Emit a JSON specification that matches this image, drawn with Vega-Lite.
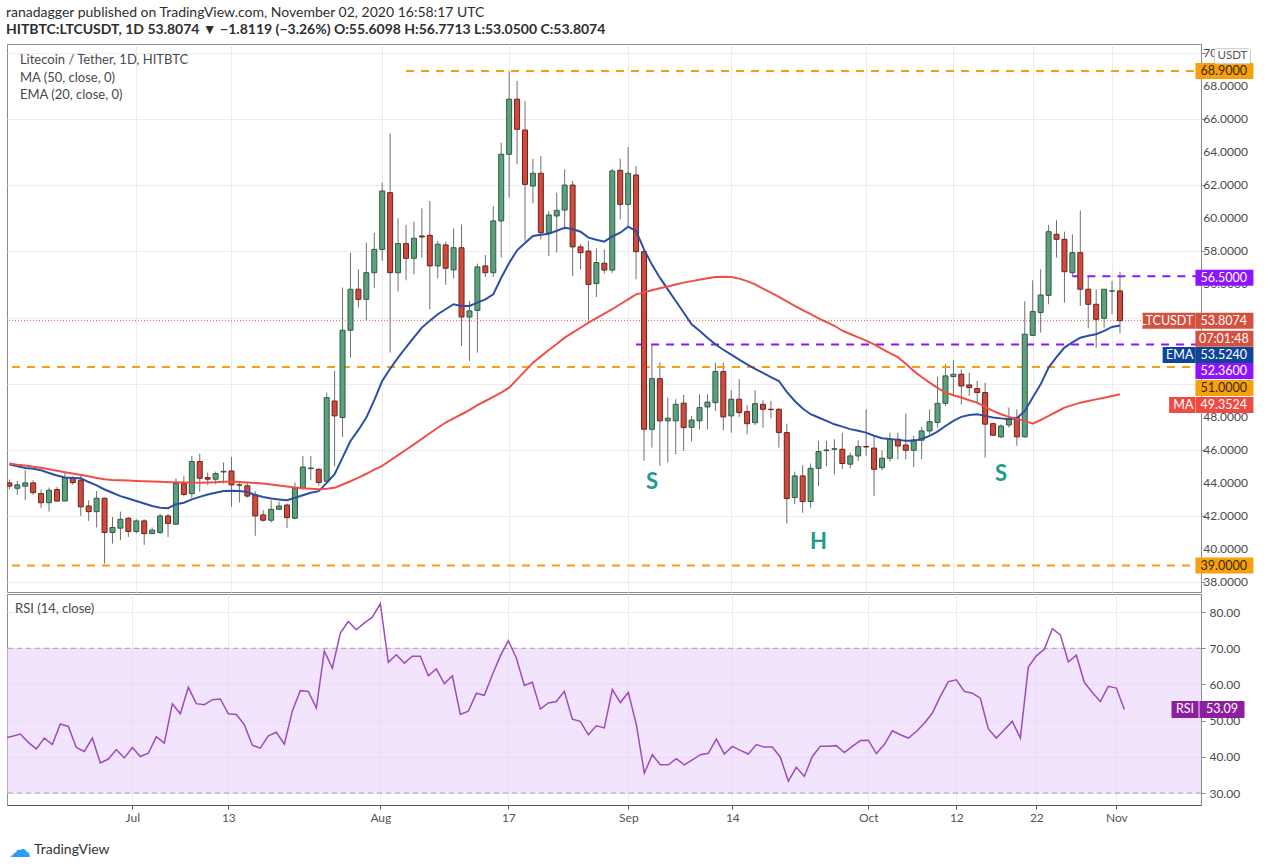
{
  "$schema": "https://vega.github.io/schema/vega-lite/v6.json",
  "background": "white",
  "padding": {"left": 6, "top": 5, "right": 0, "bottom": 0},
  "autosize": {"type": "pad"},
  "title": {
    "text": "ranadagger published on TradingView.com, November 02, 2020 16:58:17 UTC",
    "subtitle": "HITBTC:LTCUSDT, 1D  53.8074 ▼ −1.8119 (−3.26%)  O:55.6098  H:56.7713  L:53.0500  C:53.8074",
    "anchor": "start",
    "frame": "bounds",
    "font": "Lato",
    "fontSize": 14,
    "fontWeight": "normal",
    "color": "#2e2e2e",
    "subtitleFont": "Lato",
    "subtitleFontSize": 14,
    "subtitleFontWeight": "bold",
    "subtitleColor": "#2e2e2e",
    "subtitlePadding": 3,
    "offset": 7
  },
  "config": {
    "font": "Lato",
    "view": {"stroke": "#8c8c8c"},
    "axis": {"labelFont": "Lato", "titleFont": "Lato", "labelOverlap": false}
  },
  "datasets": {
    "candles": [
      {"date": "2020-06-15", "o": 44.0, "h": 44.2, "l": 43.6, "c": 43.8, "ema": 45.13, "ma": 45.17, "rsi": 45.2},
      {"date": "2020-06-16", "o": 43.67, "h": 44.12, "l": 43.27, "c": 43.88, "ema": 45.0, "ma": 45.1, "rsi": 45.7},
      {"date": "2020-06-17", "o": 43.8, "h": 44.76, "l": 42.95, "c": 44.0, "ema": 44.9, "ma": 45.05, "rsi": 46.3},
      {"date": "2020-06-18", "o": 44.0, "h": 44.16, "l": 43.27, "c": 43.41, "ema": 44.85, "ma": 44.98, "rsi": 44.0},
      {"date": "2020-06-19", "o": 43.35, "h": 43.6, "l": 42.47, "c": 42.8, "ema": 44.76, "ma": 44.92, "rsi": 42.2},
      {"date": "2020-06-20", "o": 42.8, "h": 43.72, "l": 42.26, "c": 43.55, "ema": 44.6, "ma": 44.82, "rsi": 45.2},
      {"date": "2020-06-21", "o": 43.6, "h": 43.75, "l": 42.87, "c": 42.9, "ema": 44.45, "ma": 44.73, "rsi": 43.4},
      {"date": "2020-06-22", "o": 42.9, "h": 44.62, "l": 42.9, "c": 44.32, "ema": 44.32, "ma": 44.64, "rsi": 49.1},
      {"date": "2020-06-23", "o": 44.28, "h": 44.42, "l": 43.88, "c": 44.02, "ema": 44.3, "ma": 44.56, "rsi": 48.4},
      {"date": "2020-06-24", "o": 44.16, "h": 44.52, "l": 42.0, "c": 42.55, "ema": 44.28, "ma": 44.48, "rsi": 42.6},
      {"date": "2020-06-25", "o": 42.6, "h": 42.95, "l": 41.7, "c": 42.26, "ema": 44.05, "ma": 44.4, "rsi": 41.5},
      {"date": "2020-06-26", "o": 42.26, "h": 43.5, "l": 41.3, "c": 43.07, "ema": 43.85, "ma": 44.3, "rsi": 45.2},
      {"date": "2020-06-27", "o": 43.07, "h": 43.1, "l": 39.12, "c": 41.0, "ema": 43.6, "ma": 44.22, "rsi": 38.3},
      {"date": "2020-06-28", "o": 41.0, "h": 41.94, "l": 40.33, "c": 41.3, "ema": 43.4, "ma": 44.18, "rsi": 39.4},
      {"date": "2020-06-29", "o": 41.26, "h": 42.26, "l": 40.53, "c": 41.8, "ema": 43.2, "ma": 44.16, "rsi": 42.0},
      {"date": "2020-06-30", "o": 41.86, "h": 41.94, "l": 40.73, "c": 41.06, "ema": 43.05, "ma": 44.14, "rsi": 39.7},
      {"date": "2020-07-01", "o": 41.06, "h": 41.8, "l": 40.93, "c": 41.7, "ema": 42.9, "ma": 44.12, "rsi": 42.6},
      {"date": "2020-07-02", "o": 41.7, "h": 41.8, "l": 40.25, "c": 40.93, "ema": 42.75, "ma": 44.1, "rsi": 40.1},
      {"date": "2020-07-03", "o": 40.93, "h": 41.3, "l": 40.9, "c": 41.14, "ema": 42.6, "ma": 44.08, "rsi": 41.0},
      {"date": "2020-07-04", "o": 41.0, "h": 42.14, "l": 40.9, "c": 42.0, "ema": 42.5, "ma": 44.06, "rsi": 45.6},
      {"date": "2020-07-05", "o": 42.0, "h": 42.14, "l": 40.73, "c": 41.55, "ema": 42.47, "ma": 44.04, "rsi": 43.8},
      {"date": "2020-07-06", "o": 41.5, "h": 44.28, "l": 41.46, "c": 43.96, "ema": 42.71, "ma": 44.03, "rsi": 54.7},
      {"date": "2020-07-07", "o": 43.96, "h": 44.42, "l": 43.2, "c": 43.3, "ema": 42.8, "ma": 44.02, "rsi": 51.9},
      {"date": "2020-07-08", "o": 43.35, "h": 45.63, "l": 43.07, "c": 45.29, "ema": 43.0, "ma": 44.01, "rsi": 59.2},
      {"date": "2020-07-09", "o": 45.29, "h": 45.77, "l": 43.47, "c": 44.28, "ema": 43.15, "ma": 44.0, "rsi": 54.7},
      {"date": "2020-07-10", "o": 44.32, "h": 44.62, "l": 43.88, "c": 44.22, "ema": 43.3, "ma": 44.02, "rsi": 54.4},
      {"date": "2020-07-11", "o": 44.22, "h": 44.68, "l": 43.92, "c": 44.56, "ema": 43.4, "ma": 44.04, "rsi": 55.8},
      {"date": "2020-07-12", "o": 44.66, "h": 45.23, "l": 43.96, "c": 44.7, "ema": 43.51, "ma": 44.06, "rsi": 56.0},
      {"date": "2020-07-13", "o": 44.72, "h": 45.57, "l": 42.55, "c": 43.88, "ema": 43.52, "ma": 44.08, "rsi": 51.9},
      {"date": "2020-07-14", "o": 43.88, "h": 44.08, "l": 42.81, "c": 43.86, "ema": 43.51, "ma": 44.05, "rsi": 51.7},
      {"date": "2020-07-15", "o": 43.82, "h": 44.08, "l": 43.1, "c": 43.2, "ema": 43.45, "ma": 44.02, "rsi": 48.9},
      {"date": "2020-07-16", "o": 43.27, "h": 43.5, "l": 40.8, "c": 42.0, "ema": 43.27, "ma": 43.99, "rsi": 43.2},
      {"date": "2020-07-17", "o": 42.06, "h": 42.35, "l": 41.66, "c": 41.74, "ema": 43.15, "ma": 43.96, "rsi": 42.4},
      {"date": "2020-07-18", "o": 41.74, "h": 42.95, "l": 41.6, "c": 42.4, "ema": 43.05, "ma": 43.9, "rsi": 45.8},
      {"date": "2020-07-19", "o": 42.4, "h": 42.87, "l": 42.35, "c": 42.6, "ema": 43.0, "ma": 43.84, "rsi": 46.8},
      {"date": "2020-07-20", "o": 42.66, "h": 42.75, "l": 41.26, "c": 41.9, "ema": 42.95, "ma": 43.78, "rsi": 43.5},
      {"date": "2020-07-21", "o": 41.86, "h": 44.02, "l": 41.8, "c": 43.67, "ema": 43.1, "ma": 43.72, "rsi": 52.7},
      {"date": "2020-07-22", "o": 43.67, "h": 45.63, "l": 43.6, "c": 44.96, "ema": 43.25, "ma": 43.68, "rsi": 58.3},
      {"date": "2020-07-23", "o": 44.86, "h": 45.63, "l": 44.16, "c": 44.9, "ema": 43.4, "ma": 43.65, "rsi": 58.1},
      {"date": "2020-07-24", "o": 44.82, "h": 44.88, "l": 43.82, "c": 44.02, "ema": 43.5, "ma": 43.62, "rsi": 53.5},
      {"date": "2020-07-25", "o": 44.1, "h": 49.46, "l": 44.02, "c": 49.15, "ema": 44.0, "ma": 43.64, "rsi": 69.3},
      {"date": "2020-07-26", "o": 48.95, "h": 50.77, "l": 45.0, "c": 48.05, "ema": 44.52, "ma": 43.7, "rsi": 64.5},
      {"date": "2020-07-27", "o": 47.95, "h": 55.81, "l": 46.78, "c": 53.23, "ema": 45.53, "ma": 43.9, "rsi": 74.2},
      {"date": "2020-07-28", "o": 53.23, "h": 57.92, "l": 51.57, "c": 55.71, "ema": 46.53, "ma": 44.1, "rsi": 77.4},
      {"date": "2020-07-29", "o": 55.71, "h": 56.91, "l": 54.6, "c": 55.1, "ema": 47.2, "ma": 44.32, "rsi": 75.1},
      {"date": "2020-07-30", "o": 55.1, "h": 58.53, "l": 53.83, "c": 56.71, "ema": 47.95, "ma": 44.55, "rsi": 77.0},
      {"date": "2020-07-31", "o": 56.71, "h": 59.13, "l": 55.77, "c": 58.12, "ema": 49.0, "ma": 44.8, "rsi": 78.6},
      {"date": "2020-08-01", "o": 58.12, "h": 62.16, "l": 57.42, "c": 61.65, "ema": 50.16, "ma": 45.03, "rsi": 82.3},
      {"date": "2020-08-02", "o": 61.55, "h": 65.12, "l": 51.88, "c": 56.71, "ema": 50.9, "ma": 45.35, "rsi": 66.1},
      {"date": "2020-08-03", "o": 56.71, "h": 60.0, "l": 55.57, "c": 58.47, "ema": 51.57, "ma": 45.68, "rsi": 68.2},
      {"date": "2020-08-04", "o": 58.47, "h": 59.6, "l": 56.25, "c": 57.58, "ema": 52.2, "ma": 46.0, "rsi": 65.9},
      {"date": "2020-08-05", "o": 57.58, "h": 59.8, "l": 56.61, "c": 58.79, "ema": 52.8, "ma": 46.33, "rsi": 67.8},
      {"date": "2020-08-06", "o": 58.93, "h": 60.6, "l": 57.62, "c": 58.87, "ema": 53.39, "ma": 46.66, "rsi": 67.8},
      {"date": "2020-08-07", "o": 58.97, "h": 61.05, "l": 54.5, "c": 57.12, "ema": 53.8, "ma": 47.0, "rsi": 62.4},
      {"date": "2020-08-08", "o": 57.12, "h": 58.63, "l": 56.37, "c": 58.43, "ema": 54.2, "ma": 47.33, "rsi": 64.3},
      {"date": "2020-08-09", "o": 58.39, "h": 58.59, "l": 55.97, "c": 56.98, "ema": 54.5, "ma": 47.65, "rsi": 60.2},
      {"date": "2020-08-10", "o": 56.88, "h": 59.39, "l": 56.37, "c": 58.22, "ema": 54.8, "ma": 47.9, "rsi": 62.4},
      {"date": "2020-08-11", "o": 58.22, "h": 59.63, "l": 52.28, "c": 54.03, "ema": 54.7, "ma": 48.15, "rsi": 51.7},
      {"date": "2020-08-12", "o": 54.03, "h": 55.0, "l": 51.37, "c": 54.4, "ema": 54.7, "ma": 48.4, "rsi": 52.6},
      {"date": "2020-08-13", "o": 54.43, "h": 57.26, "l": 51.88, "c": 57.06, "ema": 54.9, "ma": 48.7, "rsi": 57.6},
      {"date": "2020-08-14", "o": 57.12, "h": 57.78, "l": 56.45, "c": 56.71, "ema": 55.1, "ma": 48.95, "rsi": 57.0},
      {"date": "2020-08-15", "o": 56.71, "h": 60.74, "l": 56.45, "c": 59.84, "ema": 55.4, "ma": 49.2, "rsi": 62.7},
      {"date": "2020-08-16", "o": 59.84, "h": 64.57, "l": 57.62, "c": 63.87, "ema": 56.4, "ma": 49.46, "rsi": 67.9},
      {"date": "2020-08-17", "o": 63.87, "h": 68.9, "l": 61.25, "c": 67.2, "ema": 57.3, "ma": 49.76, "rsi": 72.1},
      {"date": "2020-08-18", "o": 67.2, "h": 68.3, "l": 63.26, "c": 65.38, "ema": 58.06, "ma": 50.26, "rsi": 67.3},
      {"date": "2020-08-19", "o": 65.34, "h": 67.09, "l": 58.63, "c": 62.05, "ema": 58.5, "ma": 50.76, "rsi": 59.7},
      {"date": "2020-08-20", "o": 61.95, "h": 63.6, "l": 60.9, "c": 62.72, "ema": 58.93, "ma": 51.27, "rsi": 60.6},
      {"date": "2020-08-21", "o": 62.72, "h": 63.77, "l": 58.73, "c": 59.13, "ema": 59.0, "ma": 51.65, "rsi": 53.2},
      {"date": "2020-08-22", "o": 59.13, "h": 60.44, "l": 57.72, "c": 60.2, "ema": 59.07, "ma": 52.03, "rsi": 54.9},
      {"date": "2020-08-23", "o": 60.14, "h": 61.55, "l": 57.92, "c": 60.48, "ema": 59.25, "ma": 52.4, "rsi": 55.3},
      {"date": "2020-08-24", "o": 60.5, "h": 62.96, "l": 59.33, "c": 62.01, "ema": 59.43, "ma": 52.78, "rsi": 58.1},
      {"date": "2020-08-25", "o": 62.01, "h": 62.26, "l": 56.51, "c": 58.27, "ema": 59.35, "ma": 53.08, "rsi": 50.4},
      {"date": "2020-08-26", "o": 58.27, "h": 58.43, "l": 56.91, "c": 57.92, "ema": 59.19, "ma": 53.38, "rsi": 49.8},
      {"date": "2020-08-27", "o": 58.02, "h": 58.63, "l": 53.79, "c": 56.0, "ema": 58.83, "ma": 53.69, "rsi": 46.1},
      {"date": "2020-08-28", "o": 56.05, "h": 58.18, "l": 55.24, "c": 57.32, "ema": 58.7, "ma": 53.96, "rsi": 48.6},
      {"date": "2020-08-29", "o": 57.28, "h": 58.12, "l": 56.65, "c": 56.87, "ema": 58.59, "ma": 54.23, "rsi": 48.0},
      {"date": "2020-08-30", "o": 56.87, "h": 63.0, "l": 56.7, "c": 62.86, "ema": 58.9, "ma": 54.5, "rsi": 58.6},
      {"date": "2020-08-31", "o": 62.9, "h": 63.6, "l": 59.94, "c": 60.84, "ema": 59.13, "ma": 54.8, "rsi": 55.0},
      {"date": "2020-09-01", "o": 60.84, "h": 64.31, "l": 59.53, "c": 62.72, "ema": 59.49, "ma": 55.1, "rsi": 57.8},
      {"date": "2020-09-02", "o": 62.62, "h": 63.16, "l": 56.31, "c": 57.98, "ema": 59.23, "ma": 55.4, "rsi": 48.9},
      {"date": "2020-09-03", "o": 57.98, "h": 58.12, "l": 45.33, "c": 47.24, "ema": 58.12, "ma": 55.52, "rsi": 35.5},
      {"date": "2020-09-04", "o": 47.24, "h": 52.34, "l": 46.13, "c": 50.3, "ema": 57.2, "ma": 55.65, "rsi": 40.6},
      {"date": "2020-09-05", "o": 50.3, "h": 51.27, "l": 45.03, "c": 47.75, "ema": 56.41, "ma": 55.77, "rsi": 37.8},
      {"date": "2020-09-06", "o": 47.75, "h": 49.16, "l": 45.23, "c": 47.91, "ema": 55.7, "ma": 55.88, "rsi": 37.8},
      {"date": "2020-09-07", "o": 47.75, "h": 49.06, "l": 45.73, "c": 48.75, "ema": 55.0, "ma": 56.0, "rsi": 39.5},
      {"date": "2020-09-08", "o": 48.82, "h": 49.32, "l": 45.93, "c": 47.34, "ema": 54.3, "ma": 56.11, "rsi": 37.8},
      {"date": "2020-09-09", "o": 47.36, "h": 48.05, "l": 46.5, "c": 47.8, "ema": 53.59, "ma": 56.2, "rsi": 39.2},
      {"date": "2020-09-10", "o": 47.75, "h": 49.36, "l": 47.24, "c": 48.55, "ema": 53.2, "ma": 56.28, "rsi": 40.6},
      {"date": "2020-09-11", "o": 48.59, "h": 49.36, "l": 47.24, "c": 48.89, "ema": 52.78, "ma": 56.37, "rsi": 41.0},
      {"date": "2020-09-12", "o": 48.85, "h": 51.27, "l": 48.35, "c": 50.73, "ema": 52.38, "ma": 56.45, "rsi": 44.9},
      {"date": "2020-09-13", "o": 50.73, "h": 51.27, "l": 47.18, "c": 47.99, "ema": 52.05, "ma": 56.47, "rsi": 40.8},
      {"date": "2020-09-14", "o": 48.05, "h": 49.6, "l": 47.04, "c": 49.06, "ema": 51.75, "ma": 56.45, "rsi": 42.9},
      {"date": "2020-09-15", "o": 49.06, "h": 50.27, "l": 47.99, "c": 48.25, "ema": 51.45, "ma": 56.35, "rsi": 41.8},
      {"date": "2020-09-16", "o": 48.31, "h": 48.71, "l": 46.94, "c": 47.58, "ema": 51.17, "ma": 56.2, "rsi": 40.8},
      {"date": "2020-09-17", "o": 47.64, "h": 49.6, "l": 47.5, "c": 48.79, "ema": 50.9, "ma": 56.0, "rsi": 43.4},
      {"date": "2020-09-18", "o": 48.75, "h": 48.99, "l": 47.34, "c": 48.45, "ema": 50.65, "ma": 55.75, "rsi": 42.7},
      {"date": "2020-09-19", "o": 48.45, "h": 48.95, "l": 47.9, "c": 48.43, "ema": 50.4, "ma": 55.5, "rsi": 42.7},
      {"date": "2020-09-20", "o": 48.45, "h": 48.51, "l": 46.13, "c": 47.04, "ema": 50.16, "ma": 55.25, "rsi": 39.9},
      {"date": "2020-09-21", "o": 47.04, "h": 47.58, "l": 41.54, "c": 43.05, "ema": 49.5, "ma": 54.98, "rsi": 33.3},
      {"date": "2020-09-22", "o": 43.11, "h": 44.68, "l": 42.71, "c": 44.42, "ema": 48.95, "ma": 54.7, "rsi": 37.1},
      {"date": "2020-09-23", "o": 44.42, "h": 45.07, "l": 42.2, "c": 42.87, "ema": 48.5, "ma": 54.45, "rsi": 34.6},
      {"date": "2020-09-24", "o": 42.87, "h": 45.17, "l": 42.5, "c": 44.88, "ema": 48.15, "ma": 54.2, "rsi": 40.1},
      {"date": "2020-09-25", "o": 44.88, "h": 46.54, "l": 43.8, "c": 45.89, "ema": 47.95, "ma": 53.95, "rsi": 42.9},
      {"date": "2020-09-26", "o": 45.95, "h": 46.54, "l": 45.0, "c": 45.99, "ema": 47.75, "ma": 53.72, "rsi": 42.9},
      {"date": "2020-09-27", "o": 46.03, "h": 46.64, "l": 44.52, "c": 46.06, "ema": 47.54, "ma": 53.5, "rsi": 43.1},
      {"date": "2020-09-28", "o": 46.03, "h": 47.04, "l": 44.82, "c": 45.17, "ema": 47.4, "ma": 53.2, "rsi": 41.2},
      {"date": "2020-09-29", "o": 45.13, "h": 45.83, "l": 44.88, "c": 45.63, "ema": 47.25, "ma": 53.0, "rsi": 42.9},
      {"date": "2020-09-30", "o": 45.63, "h": 46.58, "l": 45.33, "c": 46.19, "ema": 47.15, "ma": 52.8, "rsi": 44.5},
      {"date": "2020-10-01", "o": 46.2, "h": 48.45, "l": 45.63, "c": 46.17, "ema": 47.04, "ma": 52.6, "rsi": 44.6},
      {"date": "2020-10-02", "o": 46.1, "h": 46.84, "l": 43.21, "c": 44.82, "ema": 46.85, "ma": 52.38, "rsi": 40.9},
      {"date": "2020-10-03", "o": 44.92, "h": 45.97, "l": 44.76, "c": 45.49, "ema": 46.7, "ma": 52.1, "rsi": 43.4},
      {"date": "2020-10-04", "o": 45.49, "h": 47.04, "l": 45.29, "c": 46.64, "ema": 46.65, "ma": 51.85, "rsi": 47.2},
      {"date": "2020-10-05", "o": 46.64, "h": 47.04, "l": 45.43, "c": 46.23, "ema": 46.6, "ma": 51.6, "rsi": 46.1},
      {"date": "2020-10-06", "o": 46.29, "h": 48.19, "l": 45.43, "c": 45.97, "ema": 46.55, "ma": 51.2, "rsi": 45.2},
      {"date": "2020-10-07", "o": 45.97, "h": 46.84, "l": 44.96, "c": 46.6, "ema": 46.54, "ma": 50.77, "rsi": 47.0},
      {"date": "2020-10-08", "o": 46.58, "h": 47.38, "l": 45.43, "c": 47.14, "ema": 46.65, "ma": 50.4, "rsi": 49.3},
      {"date": "2020-10-09", "o": 47.14, "h": 48.45, "l": 46.94, "c": 47.7, "ema": 46.84, "ma": 50.06, "rsi": 52.1},
      {"date": "2020-10-10", "o": 47.65, "h": 50.41, "l": 47.34, "c": 48.81, "ema": 47.1, "ma": 49.75, "rsi": 56.7},
      {"date": "2020-10-11", "o": 48.81, "h": 51.17, "l": 48.65, "c": 50.47, "ema": 47.44, "ma": 49.46, "rsi": 60.8},
      {"date": "2020-10-12", "o": 50.43, "h": 51.41, "l": 49.26, "c": 50.57, "ema": 47.75, "ma": 49.3, "rsi": 61.3},
      {"date": "2020-10-13", "o": 50.57, "h": 50.87, "l": 48.75, "c": 49.86, "ema": 47.99, "ma": 49.16, "rsi": 58.1},
      {"date": "2020-10-14", "o": 49.92, "h": 50.67, "l": 49.26, "c": 49.76, "ema": 48.1, "ma": 49.0, "rsi": 57.6},
      {"date": "2020-10-15", "o": 49.7, "h": 50.17, "l": 48.75, "c": 49.46, "ema": 48.15, "ma": 48.85, "rsi": 56.2},
      {"date": "2020-10-16", "o": 49.46, "h": 50.06, "l": 45.53, "c": 47.55, "ema": 48.05, "ma": 48.6, "rsi": 47.7},
      {"date": "2020-10-17", "o": 47.58, "h": 47.6, "l": 46.84, "c": 46.88, "ema": 47.95, "ma": 48.35, "rsi": 45.2},
      {"date": "2020-10-18", "o": 46.78, "h": 47.54, "l": 46.7, "c": 47.44, "ema": 47.9, "ma": 48.15, "rsi": 47.5},
      {"date": "2020-10-19", "o": 47.5, "h": 48.55, "l": 47.34, "c": 47.9, "ema": 47.85, "ma": 47.99, "rsi": 49.8},
      {"date": "2020-10-20", "o": 47.95, "h": 48.45, "l": 46.24, "c": 46.78, "ema": 47.91, "ma": 47.87, "rsi": 45.2},
      {"date": "2020-10-21", "o": 46.78, "h": 54.99, "l": 46.74, "c": 52.99, "ema": 48.35, "ma": 47.75, "rsi": 64.8},
      {"date": "2020-10-22", "o": 52.92, "h": 56.25, "l": 52.88, "c": 54.36, "ema": 49.16, "ma": 47.58, "rsi": 67.9},
      {"date": "2020-10-23", "o": 54.3, "h": 56.92, "l": 53.09, "c": 55.36, "ema": 49.96, "ma": 47.8, "rsi": 69.7},
      {"date": "2020-10-24", "o": 55.34, "h": 59.6, "l": 54.8, "c": 59.19, "ema": 50.97, "ma": 48.05, "rsi": 75.4},
      {"date": "2020-10-25", "o": 59.03, "h": 59.88, "l": 57.62, "c": 58.73, "ema": 51.6, "ma": 48.3, "rsi": 73.7},
      {"date": "2020-10-26", "o": 58.73, "h": 59.19, "l": 54.9, "c": 56.77, "ema": 52.18, "ma": 48.55, "rsi": 66.2},
      {"date": "2020-10-27", "o": 56.71, "h": 59.03, "l": 56.51, "c": 57.92, "ema": 52.5, "ma": 48.7, "rsi": 68.1},
      {"date": "2020-10-28", "o": 57.92, "h": 60.48, "l": 54.7, "c": 55.71, "ema": 52.78, "ma": 48.85, "rsi": 60.6},
      {"date": "2020-10-29", "o": 55.71, "h": 56.51, "l": 53.35, "c": 54.8, "ema": 52.9, "ma": 48.95, "rsi": 57.8},
      {"date": "2020-10-30", "o": 54.8, "h": 55.71, "l": 52.18, "c": 53.89, "ema": 52.99, "ma": 49.05, "rsi": 55.3},
      {"date": "2020-10-31", "o": 53.95, "h": 55.71, "l": 53.39, "c": 55.71, "ema": 53.19, "ma": 49.15, "rsi": 59.5},
      {"date": "2020-11-01", "o": 55.6, "h": 56.21, "l": 54.2, "c": 55.61, "ema": 53.43, "ma": 49.25, "rsi": 59.0},
      {"date": "2020-11-02", "o": 55.61, "h": 56.77, "l": 53.05, "c": 53.81, "ema": 53.52, "ma": 49.36, "rsi": 53.1}
    ],
    "levels": [
      {"from": "2020-08-04", "level": 68.9, "kind": "lvl"},
      {"from": "2020-06-15T08:00:00Z", "level": 51.0, "kind": "lvl"},
      {"from": "2020-06-15T08:00:00Z", "level": 39.0, "kind": "lvl"},
      {"from": "2020-09-02", "level": 52.36, "kind": "zone"},
      {"from": "2020-10-27", "level": 56.5, "kind": "zone"}
    ],
    "tags": [
      {"tag": "68.9000", "pos": 68.9, "kind": "lvl"},
      {"tag": "56.5000", "pos": 56.4, "kind": "zone"},
      {"tag": "53.8074", "pos": 53.8, "kind": "last"},
      {"tag": "07:01:48", "pos": 52.72, "kind": "last"},
      {"tag": "53.5240", "pos": 51.73, "kind": "ema"},
      {"tag": "52.3600", "pos": 50.77, "kind": "zone"},
      {"tag": "51.0000", "pos": 49.74, "kind": "lvl"},
      {"tag": "49.3524", "pos": 48.71, "kind": "ma"},
      {"tag": "39.0000", "pos": 39.0, "kind": "lvl"}
    ],
    "priceLabels": [
      {"v": 38, "t": "38.0000"}, {"v": 40, "t": "40.0000"}, {"v": 42, "t": "42.0000"}, {"v": 44, "t": "44.0000"},
      {"v": 46, "t": "46.0000"}, {"v": 48, "t": "48.0000"}, {"v": 56, "t": "56.0000"}, {"v": 58, "t": "58.0000"},
      {"v": 60, "t": "60.0000"}, {"v": 62, "t": "62.0000"}, {"v": 64, "t": "64.0000"}, {"v": 66, "t": "66.0000"},
      {"v": 68, "t": "68.0000"}, {"v": 70, "t": "70.0000"}
    ]
  },
  "spacing": 0,
  "vconcat": [
    {
      "width": 1194,
      "height": 548,
      "layer": [
        {
          "data": {"name": "candles"},
          "mark": {"type": "rule", "color": "#707070", "strokeWidth": 1, "clip": true},
          "encoding": {
            "x": {
              "field": "date", "type": "temporal", "title": null,
              "scale": {"type": "utc", "domain": [{"year": 2020, "month": 6, "date": 15, "hours": 8, "utc": true}, {"year": 2020, "month": 11, "date": 11, "hours": 14, "utc": true}]},
              "axis": {
                "values": [
                  {"year": 2020, "month": 7, "date": 1, "utc": true}, {"year": 2020, "month": 7, "date": 13, "utc": true},
                  {"year": 2020, "month": 8, "date": 1, "utc": true}, {"year": 2020, "month": 8, "date": 17, "utc": true},
                  {"year": 2020, "month": 9, "date": 1, "utc": true}, {"year": 2020, "month": 9, "date": 14, "utc": true},
                  {"year": 2020, "month": 10, "date": 1, "utc": true}, {"year": 2020, "month": 10, "date": 12, "utc": true},
                  {"year": 2020, "month": 10, "date": 22, "utc": true}, {"year": 2020, "month": 11, "date": 1, "utc": true}
                ],
                "labels": false, "ticks": false, "domain": false, "grid": true, "gridColor": "#ececec", "title": null, "zindex": 0
              }
            },
            "y": {
              "field": "l", "type": "quantitative", "title": null,
              "scale": {"domain": [37.4, 70.54], "nice": false, "zero": false},
              "axis": {
                "orient": "right", "values": [38, 40, 42, 44, 46, 48, 50, 52, 54, 56, 58, 60, 62, 64, 66, 68, 70],
                "labels": false, "zindex": 0,
                "grid": true, "gridColor": "#ececec", "title": null,
                "domainColor": "#8c8c8c", "tickColor": "#8c8c8c", "tickSize": 4
              }
            },
            "y2": {"field": "h"}
          }
        },
        {
          "data": {"name": "levels"},
          "mark": {"type": "rule", "strokeWidth": 2, "strokeDash": [8, 7], "clip": true},
          "encoding": {
            "x": {"field": "from", "type": "temporal", "title": null, "scale": {"type": "utc", "domain": [{"year": 2020, "month": 6, "date": 15, "hours": 8, "utc": true}, {"year": 2020, "month": 11, "date": 11, "hours": 14, "utc": true}]}},
            "x2": {"datum": {"year": 2020, "month": 11, "date": 11, "hours": 14, "utc": true}},
            "y": {"field": "level", "type": "quantitative", "title": null, "scale": {"domain": [37.4, 70.54], "nice": false, "zero": false}},
            "color": {"field": "kind", "type": "nominal", "scale": {"domain": ["lvl", "zone", "last", "ema", "ma"], "range": ["#f5a00c", "#9013fe", "#d4503f", "#0f4597", "#ef4a43"]}, "legend": null}
          }
        },
        {
          "data": {"values": [{"level": 53.8074}]},
          "mark": {"type": "rule", "color": "#e0604f", "strokeWidth": 1, "strokeDash": [1, 2]},
          "encoding": {
            "y": {"field": "level", "type": "quantitative", "title": null, "scale": {"domain": [37.4, 70.54], "nice": false, "zero": false}}
          }
        },
        {
          "data": {"name": "candles"},
          "mark": {"type": "bar", "size": 5, "strokeWidth": 1, "clip": true},
          "encoding": {
            "x": {"field": "date", "type": "temporal", "title": null, "scale": {"type": "utc", "domain": [{"year": 2020, "month": 6, "date": 15, "hours": 8, "utc": true}, {"year": 2020, "month": 11, "date": 11, "hours": 14, "utc": true}]}},
            "y": {"field": "o", "type": "quantitative", "title": null, "scale": {"domain": [37.4, 70.54], "nice": false, "zero": false}},
            "y2": {"field": "c"},
            "fill": {"condition": {"test": "datum.c >= datum.o", "value": "#5da07d"}, "value": "#cf4a3c"},
            "stroke": {"condition": {"test": "datum.c >= datum.o", "value": "#2f5a45"}, "value": "#6e2219"}
          }
        },
        {
          "data": {"name": "candles"},
          "mark": {"type": "line", "color": "#2c4fa6", "strokeWidth": 2, "clip": true},
          "encoding": {
            "x": {"field": "date", "type": "temporal", "title": null, "scale": {"type": "utc", "domain": [{"year": 2020, "month": 6, "date": 15, "hours": 8, "utc": true}, {"year": 2020, "month": 11, "date": 11, "hours": 14, "utc": true}]}},
            "y": {"field": "ema", "type": "quantitative", "title": null, "scale": {"domain": [37.4, 70.54], "nice": false, "zero": false}}
          }
        },
        {
          "data": {"name": "candles"},
          "mark": {"type": "line", "color": "#ef4f47", "strokeWidth": 2, "clip": true},
          "encoding": {
            "x": {"field": "date", "type": "temporal", "title": null, "scale": {"type": "utc", "domain": [{"year": 2020, "month": 6, "date": 15, "hours": 8, "utc": true}, {"year": 2020, "month": 11, "date": 11, "hours": 14, "utc": true}]}},
            "y": {"field": "ma", "type": "quantitative", "title": null, "scale": {"domain": [37.4, 70.54], "nice": false, "zero": false}}
          }
        },
        {
          "data": {"values": [
            {"date": "2020-06-16T08:00:00Z", "price": 69.57, "t": "Litecoin / Tether, 1D, HITBTC"},
            {"date": "2020-06-16T08:00:00Z", "price": 68.48, "t": "MA (50, close, 0)"},
            {"date": "2020-06-16T08:00:00Z", "price": 67.46, "t": "EMA (20, close, 0)"}
          ]},
          "mark": {"type": "text", "align": "left", "baseline": "middle", "fontSize": 13, "color": "#4a4a4a"},
          "encoding": {
            "x": {"field": "date", "type": "temporal", "title": null, "scale": {"type": "utc", "domain": [{"year": 2020, "month": 6, "date": 15, "hours": 8, "utc": true}, {"year": 2020, "month": 11, "date": 11, "hours": 14, "utc": true}]}},
            "y": {"field": "price", "type": "quantitative", "title": null, "scale": {"domain": [37.4, 70.54], "nice": false, "zero": false}},
            "text": {"field": "t"}
          }
        },
        {
          "data": {"values": [
            {"date": "2020-09-04", "price": 44.06, "t": "S"},
            {"date": "2020-09-25", "price": 40.43, "t": "H"},
            {"date": "2020-10-18", "price": 44.54, "t": "S"}
          ]},
          "mark": {"type": "text", "align": "center", "baseline": "middle", "fontSize": 22, "fontWeight": "bold", "color": "#1c9c8b"},
          "encoding": {
            "x": {"field": "date", "type": "temporal", "title": null, "scale": {"type": "utc", "domain": [{"year": 2020, "month": 6, "date": 15, "hours": 8, "utc": true}, {"year": 2020, "month": 11, "date": 11, "hours": 14, "utc": true}]}},
            "y": {"field": "price", "type": "quantitative", "title": null, "scale": {"domain": [37.4, 70.54], "nice": false, "zero": false}},
            "text": {"field": "t"}
          }
        },
        {
          "data": {"name": "priceLabels"},
          "mark": {"type": "text", "align": "left", "baseline": "middle", "fontSize": 12, "color": "#4a4a4a"},
          "encoding": {
            "x": {"datum": {"year": 2020, "month": 11, "date": 12, "hours": 12, "utc": true}, "type": "temporal", "title": null, "scale": {"type": "utc", "domain": [{"year": 2020, "month": 6, "date": 15, "hours": 8, "utc": true}, {"year": 2020, "month": 11, "date": 11, "hours": 14, "utc": true}]}},
            "y": {"field": "v", "type": "quantitative", "title": null, "scale": {"domain": [37.4, 70.54], "nice": false, "zero": false}},
            "text": {"field": "t"}
          }
        },
        {
          "data": {"name": "tags"},
          "mark": {"type": "tick", "orient": "horizontal", "size": 58, "thickness": 16, "opacity": 1},
          "encoding": {
            "x": {"datum": {"year": 2020, "month": 11, "date": 15, "hours": 4, "utc": true}, "type": "temporal", "title": null, "scale": {"type": "utc", "domain": [{"year": 2020, "month": 6, "date": 15, "hours": 8, "utc": true}, {"year": 2020, "month": 11, "date": 11, "hours": 14, "utc": true}]}},
            "y": {"field": "pos", "type": "quantitative", "title": null, "scale": {"domain": [37.4, 70.54], "nice": false, "zero": false}},
            "color": {"field": "kind", "type": "nominal", "legend": null}
          }
        },
        {
          "data": {"name": "tags"},
          "mark": {"type": "text", "align": "center", "baseline": "middle", "fontSize": 12.5},
          "encoding": {
            "x": {"datum": {"year": 2020, "month": 11, "date": 15, "hours": 2, "utc": true}, "type": "temporal", "title": null, "scale": {"type": "utc", "domain": [{"year": 2020, "month": 6, "date": 15, "hours": 8, "utc": true}, {"year": 2020, "month": 11, "date": 11, "hours": 14, "utc": true}]}},
            "y": {"field": "pos", "type": "quantitative", "title": null, "scale": {"domain": [37.4, 70.54], "nice": false, "zero": false}},
            "text": {"field": "tag"},
            "color": {"condition": {"test": "datum.kind == 'lvl'", "value": "#3a2a10"}, "value": "white"}
          }
        },
        {
          "data": {"values": [{"tag": "LTCUSDT", "pos": 53.8}]},
          "mark": {"type": "tick", "orient": "horizontal", "size": 53, "thickness": 16, "opacity": 1, "color": "#d4503f"},
          "encoding": {
            "x": {"datum": {"year": 2020, "month": 11, "date": 8, "hours": 4, "utc": true}, "type": "temporal", "title": null, "scale": {"type": "utc", "domain": [{"year": 2020, "month": 6, "date": 15, "hours": 8, "utc": true}, {"year": 2020, "month": 11, "date": 11, "hours": 14, "utc": true}]}},
            "y": {"field": "pos", "type": "quantitative", "title": null, "scale": {"domain": [37.4, 70.54], "nice": false, "zero": false}}
          }
        },
        {
          "data": {"values": [{"tag": "EMA", "pos": 51.73}]},
          "mark": {"type": "tick", "orient": "horizontal", "size": 33, "thickness": 16, "opacity": 1, "color": "#0f4597"},
          "encoding": {
            "x": {"datum": {"year": 2020, "month": 11, "date": 9, "hours": 11, "utc": true}, "type": "temporal", "title": null, "scale": {"type": "utc", "domain": [{"year": 2020, "month": 6, "date": 15, "hours": 8, "utc": true}, {"year": 2020, "month": 11, "date": 11, "hours": 14, "utc": true}]}},
            "y": {"field": "pos", "type": "quantitative", "title": null, "scale": {"domain": [37.4, 70.54], "nice": false, "zero": false}}
          }
        },
        {
          "data": {"values": [{"tag": "MA", "pos": 48.71}]},
          "mark": {"type": "tick", "orient": "horizontal", "size": 26, "thickness": 16, "opacity": 1, "color": "#ef4a43"},
          "encoding": {
            "x": {"datum": {"year": 2020, "month": 11, "date": 9, "hours": 20, "utc": true}, "type": "temporal", "title": null, "scale": {"type": "utc", "domain": [{"year": 2020, "month": 6, "date": 15, "hours": 8, "utc": true}, {"year": 2020, "month": 11, "date": 11, "hours": 14, "utc": true}]}},
            "y": {"field": "pos", "type": "quantitative", "title": null, "scale": {"domain": [37.4, 70.54], "nice": false, "zero": false}}
          }
        },
        {
          "data": {"values": [{"tag": "LTCUSDT", "pos": 53.8}, {"tag": "EMA", "pos": 51.73}, {"tag": "MA", "pos": 48.71}]},
          "mark": {"type": "text", "align": "right", "baseline": "middle", "fontSize": 12.5, "color": "white"},
          "encoding": {
            "x": {"datum": {"year": 2020, "month": 11, "date": 11, "hours": 6, "utc": true}, "type": "temporal", "title": null, "scale": {"type": "utc", "domain": [{"year": 2020, "month": 6, "date": 15, "hours": 8, "utc": true}, {"year": 2020, "month": 11, "date": 11, "hours": 14, "utc": true}]}},
            "y": {"field": "pos", "type": "quantitative", "title": null, "scale": {"domain": [37.4, 70.54], "nice": false, "zero": false}},
            "text": {"field": "tag"}
          }
        },
        {
          "data": {"values": [{"tag": "USDT", "pos": 69.8}]},
          "mark": {"type": "tick", "orient": "horizontal", "size": 36, "thickness": 15, "opacity": 1, "color": "white", "stroke": "#c8c8c8", "strokeWidth": 1, "cornerRadius": 2},
          "encoding": {
            "x": {"datum": {"year": 2020, "month": 11, "date": 16, "hours": 4, "utc": true}, "type": "temporal", "title": null, "scale": {"type": "utc", "domain": [{"year": 2020, "month": 6, "date": 15, "hours": 8, "utc": true}, {"year": 2020, "month": 11, "date": 11, "hours": 14, "utc": true}]}},
            "y": {"field": "pos", "type": "quantitative", "title": null, "scale": {"domain": [37.4, 70.54], "nice": false, "zero": false}}
          }
        },
        {
          "data": {"values": [{"tag": "USDT", "pos": 69.8}]},
          "mark": {"type": "text", "align": "center", "baseline": "middle", "fontSize": 11.5, "color": "#555555"},
          "encoding": {
            "x": {"datum": {"year": 2020, "month": 11, "date": 16, "hours": 4, "utc": true}, "type": "temporal", "title": null, "scale": {"type": "utc", "domain": [{"year": 2020, "month": 6, "date": 15, "hours": 8, "utc": true}, {"year": 2020, "month": 11, "date": 11, "hours": 14, "utc": true}]}},
            "y": {"field": "pos", "type": "quantitative", "title": null, "scale": {"domain": [37.4, 70.54], "nice": false, "zero": false}},
            "text": {"field": "tag"}
          }
        }
      ]
    },
    {
      "width": 1194,
      "height": 211,
      "layer": [
        {
          "data": {"values": [{}]},
          "mark": {"type": "rect", "color": "#e6c9fa", "opacity": 0.5},
          "encoding": {
            "x": {
              "datum": {"year": 2020, "month": 6, "date": 15, "hours": 8, "utc": true}, "type": "temporal", "title": null,
              "scale": {"type": "utc", "domain": [{"year": 2020, "month": 6, "date": 15, "hours": 8, "utc": true}, {"year": 2020, "month": 11, "date": 11, "hours": 14, "utc": true}]},
              "axis": {
                "values": [
                  {"year": 2020, "month": 7, "date": 1, "utc": true}, {"year": 2020, "month": 7, "date": 13, "utc": true},
                  {"year": 2020, "month": 8, "date": 1, "utc": true}, {"year": 2020, "month": 8, "date": 17, "utc": true},
                  {"year": 2020, "month": 9, "date": 1, "utc": true}, {"year": 2020, "month": 9, "date": 14, "utc": true},
                  {"year": 2020, "month": 10, "date": 1, "utc": true}, {"year": 2020, "month": 10, "date": 12, "utc": true},
                  {"year": 2020, "month": 10, "date": 22, "utc": true}, {"year": 2020, "month": 11, "date": 1, "utc": true}
                ],
                "labelExpr": "utcdate(datum.value) == 1 ? utcFormat(datum.value, '%b') : utcFormat(datum.value, '%d')",
                "grid": true, "gridColor": "#ececec", "title": null, "zindex": 0,
                "domainColor": "#555555", "tickColor": "#555555", "tickSize": 4,
                "labelColor": "#555555", "labelFontSize": 12, "labelPadding": 3
              }
            },
            "x2": {"datum": {"year": 2020, "month": 11, "date": 11, "hours": 14, "utc": true}},
            "y": {
              "datum": 70, "type": "quantitative", "title": null,
              "scale": {"domain": [26.7, 85], "nice": false, "zero": false},
              "axis": {
                "orient": "right", "values": [30, 40, 50, 60, 70, 80], "format": ".2f",
                "labelOverlap": false, "zindex": 0,
                "grid": true, "gridColor": "#ececec", "title": null,
                "domainColor": "#8c8c8c", "tickColor": "#8c8c8c", "tickSize": 4,
                "labelColor": "#4a4a4a", "labelFontSize": 12, "labelPadding": 4
              }
            },
            "y2": {"datum": 30}
          }
        },
        {
          "data": {"values": [{"v": 70}, {"v": 30}]},
          "mark": {"type": "rule", "color": "#a99cb2", "strokeWidth": 1, "strokeDash": [5, 4]},
          "encoding": {
            "y": {"field": "v", "type": "quantitative", "title": null, "scale": {"domain": [26.7, 85], "nice": false, "zero": false}}
          }
        },
        {
          "data": {"name": "candles"},
          "mark": {"type": "line", "color": "#9c4dbb", "strokeWidth": 1.5, "clip": true},
          "encoding": {
            "x": {"field": "date", "type": "temporal", "title": null, "scale": {"type": "utc", "domain": [{"year": 2020, "month": 6, "date": 15, "hours": 8, "utc": true}, {"year": 2020, "month": 11, "date": 11, "hours": 14, "utc": true}]}},
            "y": {"field": "rsi", "type": "quantitative", "title": null, "scale": {"domain": [26.7, 85], "nice": false, "zero": false}}
          }
        },
        {
          "data": {"values": [{"t": "RSI (14, close)", "v": 80.83}]},
          "mark": {"type": "text", "align": "left", "baseline": "middle", "fontSize": 13, "color": "#4a4a4a"},
          "encoding": {
            "x": {"datum": {"year": 2020, "month": 6, "date": 16, "hours": 8, "utc": true}, "type": "temporal", "title": null, "scale": {"type": "utc", "domain": [{"year": 2020, "month": 6, "date": 15, "hours": 8, "utc": true}, {"year": 2020, "month": 11, "date": 11, "hours": 14, "utc": true}]}},
            "y": {"field": "v", "type": "quantitative", "title": null, "scale": {"domain": [26.7, 85], "nice": false, "zero": false}},
            "text": {"field": "t"}
          }
        },
        {
          "data": {"values": [{"t": "RSI", "v": 53.09}]},
          "mark": {"type": "tick", "orient": "horizontal", "size": 27, "thickness": 17, "opacity": 1, "color": "#8b1f9f"},
          "encoding": {
            "x": {"datum": {"year": 2020, "month": 11, "date": 9, "hours": 14, "utc": true}, "type": "temporal", "title": null, "scale": {"type": "utc", "domain": [{"year": 2020, "month": 6, "date": 15, "hours": 8, "utc": true}, {"year": 2020, "month": 11, "date": 11, "hours": 14, "utc": true}]}},
            "y": {"field": "v", "type": "quantitative", "title": null, "scale": {"domain": [26.7, 85], "nice": false, "zero": false}}
          }
        },
        {
          "data": {"values": [{"t": "53.09", "v": 53.09}]},
          "mark": {"type": "tick", "orient": "horizontal", "size": 45, "thickness": 17, "opacity": 1, "color": "#8b1f9f"},
          "encoding": {
            "x": {"datum": {"year": 2020, "month": 11, "date": 14, "hours": 5, "utc": true}, "type": "temporal", "title": null, "scale": {"type": "utc", "domain": [{"year": 2020, "month": 6, "date": 15, "hours": 8, "utc": true}, {"year": 2020, "month": 11, "date": 11, "hours": 14, "utc": true}]}},
            "y": {"field": "v", "type": "quantitative", "title": null, "scale": {"domain": [26.7, 85], "nice": false, "zero": false}}
          }
        },
        {
          "data": {"values": [{"t": "RSI", "v": 53.09}]},
          "mark": {"type": "text", "align": "center", "baseline": "middle", "fontSize": 12.5, "color": "white"},
          "encoding": {
            "x": {"datum": {"year": 2020, "month": 11, "date": 9, "hours": 14, "utc": true}, "type": "temporal", "title": null, "scale": {"type": "utc", "domain": [{"year": 2020, "month": 6, "date": 15, "hours": 8, "utc": true}, {"year": 2020, "month": 11, "date": 11, "hours": 14, "utc": true}]}},
            "y": {"field": "v", "type": "quantitative", "title": null, "scale": {"domain": [26.7, 85], "nice": false, "zero": false}},
            "text": {"field": "t"}
          }
        },
        {
          "data": {"values": [{"t": "53.09", "v": 53.09}]},
          "mark": {"type": "text", "align": "center", "baseline": "middle", "fontSize": 12.5, "color": "white"},
          "encoding": {
            "x": {"datum": {"year": 2020, "month": 11, "date": 14, "hours": 5, "utc": true}, "type": "temporal", "title": null, "scale": {"type": "utc", "domain": [{"year": 2020, "month": 6, "date": 15, "hours": 8, "utc": true}, {"year": 2020, "month": 11, "date": 11, "hours": 14, "utc": true}]}},
            "y": {"field": "v", "type": "quantitative", "title": null, "scale": {"domain": [26.7, 85], "nice": false, "zero": false}},
            "text": {"field": "t"}
          }
        },
        {
          "data": {"values": [{"t": "☁", "v": 14.25}]},
          "mark": {"type": "text", "align": "center", "baseline": "middle", "fontSize": 22, "font": "DejaVu Sans", "color": "#2a9df4"},
          "encoding": {
            "x": {"datum": {"year": 2020, "month": 6, "date": 16, "hours": 23, "utc": true}, "type": "temporal", "title": null, "scale": {"type": "utc", "domain": [{"year": 2020, "month": 6, "date": 15, "hours": 8, "utc": true}, {"year": 2020, "month": 11, "date": 11, "hours": 14, "utc": true}]}},
            "y": {"field": "v", "type": "quantitative", "title": null, "scale": {"domain": [26.7, 85], "nice": false, "zero": false}},
            "text": {"field": "t"}
          }
        },
        {
          "data": {"values": [{"t": "TradingView", "v": 14.25}]},
          "mark": {"type": "text", "align": "left", "baseline": "middle", "fontSize": 14, "color": "#333333"},
          "encoding": {
            "x": {"datum": {"year": 2020, "month": 6, "date": 18, "hours": 17, "utc": true}, "type": "temporal", "title": null, "scale": {"type": "utc", "domain": [{"year": 2020, "month": 6, "date": 15, "hours": 8, "utc": true}, {"year": 2020, "month": 11, "date": 11, "hours": 14, "utc": true}]}},
            "y": {"field": "v", "type": "quantitative", "title": null, "scale": {"domain": [26.7, 85], "nice": false, "zero": false}},
            "text": {"field": "t"}
          }
        }
      ]
    }
  ]
}
